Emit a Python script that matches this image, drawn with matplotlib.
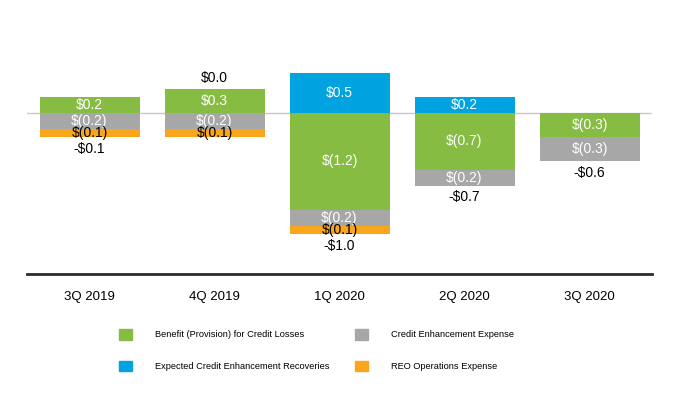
import matplotlib.pyplot as plt
from matplotlib.patches import Patch
import numpy as np

plt.rcParams['font.family'] = ['Liberation Sans', 'DejaVu Sans']

quarters = ['3Q 2019', '4Q 2019', '1Q 2020', '2Q 2020', '3Q 2020']
benefit = [0.2, 0.3, -1.2, -0.7, -0.3]
recoveries = [0.0, 0.0, 0.5, 0.2, 0.0]
enh_expense = [-0.2, -0.2, -0.2, -0.2, -0.3]
reo_expense = [-0.1, -0.1, -0.1, 0.0, 0.0]
totals = [-0.1, 0.0, -1.0, -0.7, -0.6]

series = [
    ('Benefit (Provision) for Credit Losses', benefit, '#87BC42', 'white'),
    ('Expected Credit Enhancement Recoveries', recoveries, '#00A3DF', 'white'),
    ('Credit Enhancement Expense', enh_expense, '#A7A7A7', 'white'),
    ('REO Operations Expense', reo_expense, '#F9A61C', 'black'),
]


def seg_label(v):
    if v < 0:
        return '$(%.1f)' % abs(v)
    return '$%.1f' % v


def total_label(v):
    if v < 0:
        return '-$%.1f' % abs(v)
    return '$%.1f' % v


fig = plt.figure(figsize=(6.84, 4), dpi=100)
ax = fig.add_axes([27 / 684, 1 - 274 / 400, 625 / 684, 225 / 400])

x = np.arange(len(quarters))
pos_base = np.zeros(len(quarters))
neg_base = np.zeros(len(quarters))
handles = []
for name, vals, color, tcolor in series:
    vals = np.array(vals)
    bottom = np.where(vals >= 0, pos_base, neg_base)
    bars = ax.bar(x, vals, 0.8, bottom=bottom, color=color, zorder=2)
    for b, v, bt in zip(bars, vals, bottom):
        if v == 0:
            continue
        ax.text(b.get_x() + b.get_width() / 2, bt + v / 2, seg_label(v),
                ha='center', va='center', color=tcolor, fontsize=10, zorder=3)
    pos_base = pos_base + np.where(vals >= 0, vals, 0)
    neg_base = neg_base + np.where(vals < 0, vals, 0)
    handles.append(Patch(color=color, label=name))

for i, t in enumerate(totals):
    if t >= 0:
        ax.annotate(total_label(t), (x[i], pos_base[i]), xytext=(0, 3),
                    textcoords='offset points', ha='center', va='bottom', fontsize=10)
    else:
        ax.annotate(total_label(t), (x[i], neg_base[i]), xytext=(0, -3.5),
                    textcoords='offset points', ha='center', va='top', fontsize=10)

ax.axhline(0, color='#C8C8C8', lw=1, zorder=1)
ax.set_xlim(-0.5, 4.5)
ax.set_ylim(-2.0, 0.8)
ax.set_xticks(x)
ax.set_xticklabels(quarters, fontsize=9.5)
ax.set_yticks([])
ax.tick_params(axis='x', length=0, pad=12)
for s in ['top', 'right', 'left']:
    ax.spines[s].set_visible(False)
ax.spines['bottom'].set_color('#2b2b2b')
ax.spines['bottom'].set_linewidth(2)

fig.legend(handles=handles, loc='upper left',
           bbox_to_anchor=(119 / 684, 1 - 329 / 400), ncol=2, frameon=False,
           fontsize=6.7, handlelength=1.4, handleheight=1.4, handletextpad=2.5,
           labelspacing=2.25, columnspacing=2.7, borderpad=0, borderaxespad=0)

fig.savefig('out.png', dpi=100)
